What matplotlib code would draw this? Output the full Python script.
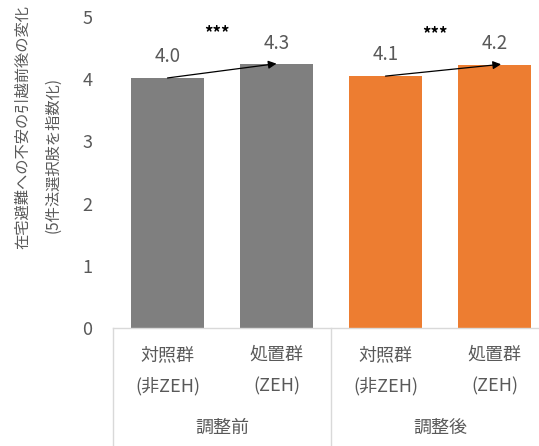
import matplotlib
matplotlib.use("Agg")
import matplotlib.pyplot as plt
import matplotlib.transforms as mtransforms

plt.rcParams['font.family'] = ['Noto Sans CJK JP', 'DejaVu Sans']

groups = ["対照群\n(非ZEH)", "処置群\n(ZEH)", "対照群\n(非ZEH)", "処置群\n(ZEH)"]
outer = ["調整前", "調整後"]
values = [4.02, 4.24, 4.05, 4.23]
labels = ["4.0", "4.3", "4.1", "4.2"]
sig = ["***", "***"]
colors = ["#7f7f7f", "#7f7f7f", "#ed7d31", "#ed7d31"]
ylabel1 = "在宅避難への不安の引越前後の変化"
ylabel2 = "(5件法選択肢を指数化)"

W, H = 539, 446
fig = plt.figure(figsize=(W / 100, H / 100), dpi=100)
ax_l, ax_r, ax_b, ax_t = 113, 539, 328, 17
ax = fig.add_axes([ax_l / W, (H - ax_b) / H, (ax_r - ax_l) / W, (ax_b - ax_t) / H])

txt = "#595959"
x = list(range(len(values)))
ax.bar(x, values, width=0.67, color=colors, zorder=2)
ax.set_ylim(0, 5)
ax.set_xlim(-0.5, -0.5 + (ax_r - ax_l) / 109)
ax.set_yticks(range(0, 6))
ax.tick_params(axis='y', length=0, pad=15, labelsize=13, labelcolor=txt)
ax.set_xticks([])
for s in ["top", "right", "left"]:
    ax.spines[s].set_visible(False)
ax.spines["bottom"].set_color("#d9d9d9")
ax.spines["bottom"].set_linewidth(1)

for xi, v, lab in zip(x, values, labels):
    ax.text(xi, v + 0.34, lab, ha='center', va='center', fontsize=13.5, color=txt)

for k in range(2):
    i0, i1 = 2 * k, 2 * k + 1
    ax.annotate("", xy=(i1 + 0.06 * k, values[i1] + 0.01), xytext=(i0, values[i0]),
                arrowprops=dict(arrowstyle='-|>', color='black', lw=0.9,
                                mutation_scale=12, shrinkA=0, shrinkB=0))
    ax.text((i0 + i1) / 2 - 0.05, max(values[i0], values[i1]) + 0.5, sig[k],
            ha='center', va='center', fontsize=12, color='black', fontweight='bold')

trans = mtransforms.blended_transform_factory(ax.transData, ax.transAxes)
axh = ax_b - ax_t
bottom = -(H - ax_b) / axh
for xb in [-0.5, 1.5, 3.5]:
    ax.plot([xb, xb], [0, bottom], transform=trans, color="#d9d9d9", lw=1, clip_on=False)

for xi, g in zip(x, groups):
    l1, l2 = g.split("\n")
    ax.text(xi, -(355 - ax_b) / axh, l1, transform=trans, ha='center', va='center',
            fontsize=13, color=txt)
    ax.text(xi, -(386 - ax_b) / axh, l2, transform=trans, ha='center', va='center',
            fontsize=13, color=txt)
for k, o in enumerate(outer):
    ax.text(2 * k + 0.5, -(428 - ax_b) / axh, o, transform=trans, ha='center', va='center',
            fontsize=13, color=txt)

fig.text(23 / W, 1 - 127 / H, ylabel1, rotation=90, ha='center', va='center',
         fontsize=11, color=txt)
fig.text(53 / W, 1 - 155 / H, ylabel2, rotation=90, ha='center', va='center',
         fontsize=11, color=txt)

fig.savefig("out.png", dpi=100)
